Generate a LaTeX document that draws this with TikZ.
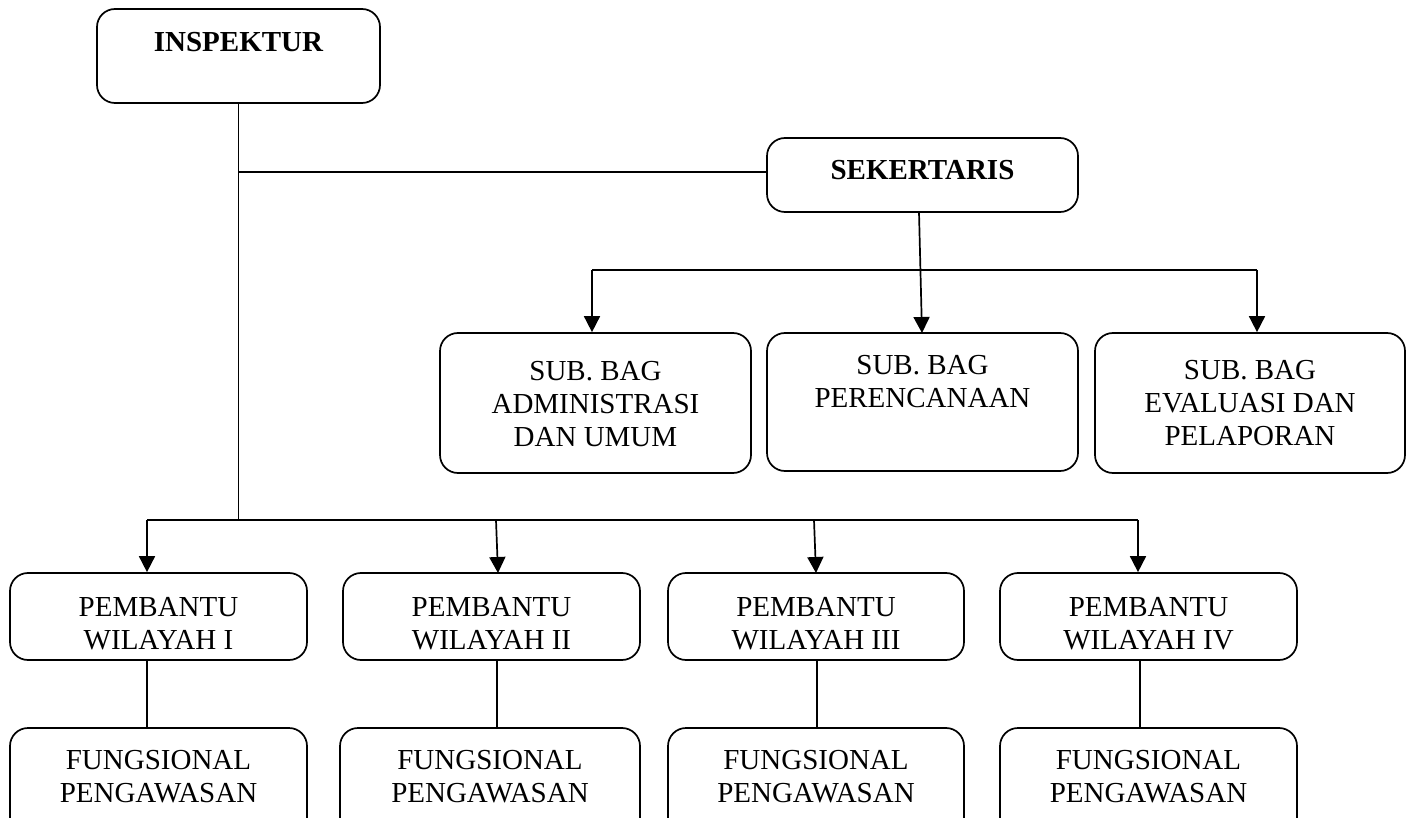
\documentclass[tikz,border=0pt]{standalone}
\usepackage{fontspec}
\setmainfont{Liberation Serif}
\usetikzlibrary{arrows.meta}
\begin{document}
\begin{tikzpicture}[x=1pt,y=-1pt,
  box/.style={draw,line width=1.7pt,rounded corners=18pt,inner sep=0pt},
  txt/.style={align=center,inner sep=0pt,font=\fontsize{29}{33}\selectfont},
  btxt/.style={txt,font=\fontsize{29}{33}\selectfont\bfseries},
  conn/.style={line width=1.7pt},
  arr/.style={line width=1.7pt,-{Triangle[width=16pt,length=16pt]}}]
\useasboundingbox (0,0) rectangle (1414,818);
\clip (0,0) rectangle (1414,818);
% boxes
\node[box,minimum width=283pt,minimum height=94pt] (insp) at (238.5,56) {};
\node[box,minimum width=311pt,minimum height=74pt] (sek) at (922.5,175) {};
\node[box,minimum width=311pt,minimum height=140pt] (sb1) at (595.5,403) {};
\node[box,minimum width=311pt,minimum height=138pt] (sb2) at (922.5,402) {};
\node[box,minimum width=310pt,minimum height=140pt] (sb3) at (1250,403) {};
\node[box,minimum width=297pt,minimum height=87pt] (pb1) at (158.5,616.5) {};
\node[box,minimum width=297pt,minimum height=87pt] (pb2) at (491.5,616.5) {};
\node[box,minimum width=296pt,minimum height=87pt] (pb3) at (816,616.5) {};
\node[box,minimum width=297pt,minimum height=87pt] (pb4) at (1148.5,616.5) {};
\node[box,minimum width=297pt,minimum height=112pt] (fg1) at (158.5,784) {};
\node[box,minimum width=300pt,minimum height=112pt] (fg2) at (490,784) {};
\node[box,minimum width=296pt,minimum height=112pt] (fg3) at (816,784) {};
\node[box,minimum width=297pt,minimum height=112pt] (fg4) at (1148.5,784) {};
% texts
\node[btxt] (tinsp) at (238.5,42) {INSPEKTUR};
\node[btxt] (tsek) at (922.5,170) {SEKERTARIS};
\node[txt] (tsb1) at (595.5,404) {SUB. BAG\\ADMINISTRASI\\DAN UMUM};
\node[txt] (tsb2) at (922.5,382) {SUB. BAG\\PERENCANAAN};
\node[txt] (tsb3) at (1250,403) {SUB. BAG\\EVALUASI DAN\\PELAPORAN};
\node[txt] (tpb1) at (158.5,624) {PEMBANTU\\WILAYAH I};
\node[txt] (tpb2) at (491.5,624) {PEMBANTU\\WILAYAH II};
\node[txt] (tpb3) at (816,624) {PEMBANTU\\WILAYAH III};
\node[txt] (tpb4) at (1148.5,624) {PEMBANTU\\WILAYAH IV};
\node[txt] (tfg1) at (158.5,777) {FUNGSIONAL\\PENGAWASAN};
\node[txt] (tfg2) at (490,777) {FUNGSIONAL\\PENGAWASAN};
\node[txt] (tfg3) at (816,777) {FUNGSIONAL\\PENGAWASAN};
\node[txt] (tfg4) at (1148.5,777) {FUNGSIONAL\\PENGAWASAN};
% junctions
\coordinate (j1) at (238.5,172);
\coordinate (jb) at (238.5,520);
\coordinate (s0) at (919,212);
\coordinate (sl) at (592,270);
\coordinate (sr) at (1257,270);
\coordinate (bl) at (147,520);
\coordinate (b2) at (496,520);
\coordinate (b3) at (814,520);
\coordinate (br) at (1138,520);
% connectors
\draw[conn] (insp.south) -- (jb);
\draw[conn] (j1) -- (j1 -| sek.west);
\draw[conn] (sl) -- (sr);
\draw[arr] (s0) -- (922,333);
\draw[arr] (sl) -- (sl |- sb1.north);
\draw[arr] (sr) -- (sr |- sb3.north);
\draw[conn] (bl) -- (br);
\draw[arr] (bl) -- (bl |- pb1.north);
\draw[arr] (b2) -- (498,573);
\draw[arr] (b3) -- (816,573);
\draw[arr] (br) -- (br |- pb4.north);
\draw[conn] (147,660) -- (147,728);
\draw[conn] (497,660) -- (497,728);
\draw[conn] (817,660) -- (817,728);
\draw[conn] (1140,660) -- (1140,728);
\end{tikzpicture}
\end{document}
